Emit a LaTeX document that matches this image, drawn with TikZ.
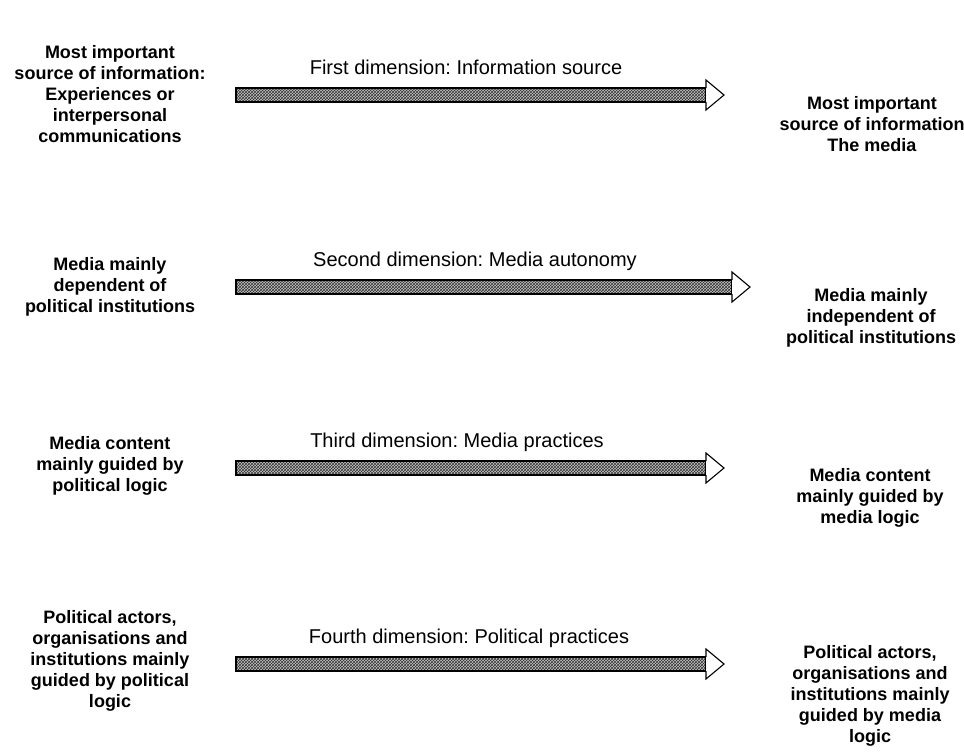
\documentclass[tikz,border=0pt]{standalone}
\usepackage{fontspec}
\setmainfont{Liberation Sans}
\usepackage{tikz}
\usetikzlibrary{positioning,calc,patterns}
\frenchspacing

\tikzset{
    endtext/.style={font=\fontsize{18}{21}\selectfont\bfseries, align=center, inner sep=0pt},
    dimlabel/.style={font=\fontsize{20}{24}\selectfont, inner sep=0pt},
    shaftline/.style={draw=black, line width=1.3pt},
    headline/.style={draw=black, line width=1.1pt, fill=white, line join=miter}
}

% arrow from a tail coordinate to a tip coordinate
\newcommand{\dimarrow}[2]{
    \fill[gray!45] ($(#1)+(0,-7)$) rectangle ($(#2)+(-18,7)$);
    \fill[pattern=crosshatch, pattern color=black!80] ($(#1)+(0,-7)$) rectangle ($(#2)+(-18,7)$);
    \draw[shaftline] ($(#1)+(0,-7)$) rectangle ($(#2)+(-18,7)$);
    \draw[headline] ($(#2)+(-18,-7)$) -- ($(#2)+(-18,-15)$) -- (#2) -- ($(#2)+(-18,15)$) -- ($(#2)+(-18,7)$);
}

\begin{document}
\begin{tikzpicture}[x=1pt,y=-1pt]
    \useasboundingbox[fill=white] (0,0) rectangle (964,755);

    % First dimension
    \node[endtext] (src1) at (110,94) {Most important\\source of information:\\Experiences or\\interpersonal\\communications};
    \node[endtext] (dst1) at (872,124) {Most important\\source of information\\The media};
    \coordinate (tail1) at (236,95);
    \coordinate (tip1) at (724,95);
    \dimarrow{tail1}{tip1}
    \node[dimlabel] (lbl1) at (466,67) {First dimension: Information source};

    % Second dimension
    \node[endtext] (src2) at (110,287) {Media mainly\\dependent of\\political institutions};
    \node[endtext] (dst2) at (871,318) {Media mainly\\independent of\\political institutions};
    \coordinate (tail2) at (236,287);
    \coordinate (tip2) at (750,287);
    \dimarrow{tail2}{tip2}
    \node[dimlabel] (lbl2) at (475,261) {Second dimension: Media autonomy};

    % Third dimension
    \node[endtext] (src3) at (110,466) {Media content\\mainly guided by\\political logic};
    \node[endtext] (dst3) at (870,498) {Media content\\mainly guided by\\media logic};
    \coordinate (tail3) at (236,468);
    \coordinate (tip3) at (724,468);
    \dimarrow{tail3}{tip3}
    \node[dimlabel] (lbl3) at (457,442) {Third dimension: Media practices};

    % Fourth dimension
    \node[endtext] (src4) at (110,661) {Political actors,\\organisations and\\institutions mainly\\guided by political\\logic};
    \node[endtext] (dst4) at (870,696) {Political actors,\\organisations and\\institutions mainly\\guided by media\\logic};
    \coordinate (tail4) at (236,664);
    \coordinate (tip4) at (724,664);
    \dimarrow{tail4}{tip4}
    \node[dimlabel] (lbl4) at (469,638) {Fourth dimension: Political practices};
\end{tikzpicture}
\end{document}
